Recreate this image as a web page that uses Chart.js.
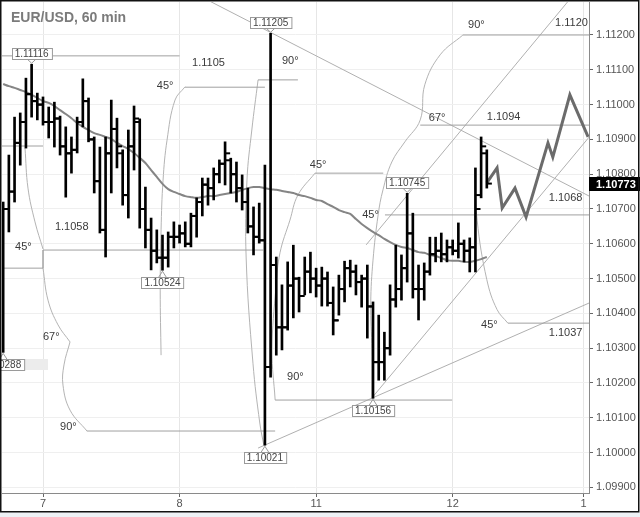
<!DOCTYPE html>
<html>
<head>
<meta charset="utf-8">
<script src="https://cdn.jsdelivr.net/npm/chart.js@4.4.0/dist/chart.umd.min.js"></script>
<style>
  html, body { margin: 0; padding: 0; background: #fff; }
  #wrap { width: 640px; height: 517px; }
</style>
</head>
<body>
<div id="wrap"><canvas id="chart" width="640" height="517"></canvas></div>
<script>
// EUR/USD 60 min - hourly OHLC bars, hour 0 = start of day "7"
const hours = [-7,-6,-5,-4,-3,-2,-1,0,1,2,3,4,5,6,7,8,9,10,11,12,13,14,15,16,17,18,19,20,21,22,
  23,24,25,26,27,28,29,30,31,32,33,34,35,36,37,38,39,40,41,42,43,44,45,46,47,48,49,50,51,52,
  53,54,55,56,57,58,59,60,61,62,63,64,65,66,67,68,69,70,71,72,73,74,75,76,77,78];

const opens = [1.10400,1.10700,1.10750,1.10890,1.10950,1.11030,1.11010,1.11000,1.10950,1.10950,
  1.10960,1.10880,1.10860,1.10870,1.10950,1.11010,1.10900,1.10780,1.10640,1.10860,
  1.10930,1.10860,1.10740,1.10880,1.10950,1.10700,1.10640,1.10580,1.10560,1.10560,
  1.10620,1.10620,1.10630,1.10600,1.10680,1.10720,1.10770,1.10760,1.10800,1.10830,
  1.10840,1.10800,1.10760,1.10720,1.10650,1.10620,1.10610,1.10246,1.10539,1.10360,
  1.10360,1.10480,1.10500,1.10450,1.10520,1.10500,1.10480,1.10500,1.10430,1.10380,
  1.10470,1.10530,1.10520,1.10490,1.10500,1.10420,1.10260,1.10260,1.10300,1.10440,
  1.10470,1.10530,1.10630,1.10470,1.10470,1.10520,1.10570,1.10580,1.10570,1.10590,
  1.10580,1.10600,1.10580,1.10590,1.10740,1.10860];

const highs = [1.10720,1.10855,1.10964,1.10976,1.11076,1.11116,1.11033,1.11022,1.10993,1.11007,
  1.10967,1.10936,1.10907,1.10964,1.11074,1.11019,1.10907,1.10878,1.10907,1.11013,
  1.10961,1.10870,1.10927,1.10996,1.10959,1.10763,1.10674,1.10640,1.10625,1.10634,
  1.10663,1.10654,1.10663,1.10688,1.10732,1.10789,1.10789,1.10818,1.10841,1.10893,
  1.10846,1.10835,1.10798,1.10760,1.10706,1.10717,1.10826,1.11205,1.10562,1.10482,
  1.10548,1.10596,1.10504,1.10562,1.10576,1.10530,1.10533,1.10519,1.10476,1.10510,
  1.10550,1.10553,1.10539,1.10510,1.10539,1.10433,1.10395,1.10346,1.10482,1.10596,
  1.10568,1.10745,1.10688,1.10539,1.10545,1.10619,1.10619,1.10631,1.10611,1.10611,
  1.10660,1.10611,1.10617,1.10818,1.10907,1.10870];

const lows = [1.10288,1.10634,1.10720,1.10826,1.10875,1.10964,1.10956,1.10941,1.10904,1.10878,
  1.10855,1.10734,1.10803,1.10861,1.10936,1.10893,1.10746,1.10631,1.10562,1.10746,
  1.10818,1.10711,1.10674,1.10812,1.10645,1.10588,1.10525,1.10545,1.10524,1.10533,
  1.10588,1.10602,1.10591,1.10591,1.10619,1.10680,1.10711,1.10726,1.10775,1.10769,
  1.10746,1.10720,1.10697,1.10631,1.10568,1.10602,1.10021,1.10217,1.10280,1.10295,
  1.10352,1.10387,1.10404,1.10453,1.10459,1.10447,1.10421,1.10421,1.10338,1.10395,
  1.10433,1.10476,1.10453,1.10418,1.10329,1.10156,1.10208,1.10208,1.10280,1.10418,
  1.10438,1.10490,1.10444,1.10381,1.10438,1.10510,1.10548,1.10548,1.10548,1.10568,
  1.10559,1.10548,1.10519,1.10519,1.10732,1.10760];

const closes = [1.10700,1.10750,1.10890,1.10950,1.11030,1.11010,1.11000,1.10950,1.10950,1.10960,
  1.10880,1.10860,1.10870,1.10950,1.11010,1.10900,1.10780,1.10640,1.10860,1.10930,
  1.10880,1.10740,1.10880,1.10960,1.10700,1.10640,1.10580,1.10560,1.10560,1.10620,
  1.10620,1.10630,1.10600,1.10680,1.10720,1.10770,1.10760,1.10800,1.10830,1.10860,
  1.10800,1.10760,1.10720,1.10650,1.10620,1.10610,1.10246,1.10539,1.10360,1.10360,
  1.10480,1.10500,1.10450,1.10520,1.10500,1.10480,1.10500,1.10430,1.10380,1.10470,
  1.10530,1.10520,1.10490,1.10500,1.10420,1.10260,1.10260,1.10300,1.10440,1.10470,
  1.10530,1.10630,1.10470,1.10470,1.10520,1.10570,1.10580,1.10570,1.10590,1.10580,
  1.10600,1.10580,1.10590,1.10700,1.10880,1.10773];

// moving average drawn through the bars
const movingAvg = [1.11059,1.11053,1.11048,1.11042,1.11036,1.11028,1.11019,1.11010,1.11005,1.10996,
  1.10984,1.10973,1.10961,1.10947,1.10936,1.10927,1.10918,1.10913,1.10907,1.10901,
  1.10890,1.10881,1.10872,1.10861,1.10847,1.10832,1.10812,1.10792,1.10772,1.10757,
  1.10749,1.10743,1.10737,1.10734,1.10732,1.10734,1.10737,1.10737,1.10740,1.10743,
  1.10746,1.10749,1.10755,1.10760,1.10763,1.10763,1.10760,1.10757,1.10755,1.10752,
  1.10749,1.10746,1.10740,1.10737,1.10732,1.10726,1.10723,1.10714,1.10706,1.10697,
  1.10691,1.10686,1.10671,1.10657,1.10645,1.10634,1.10625,1.10614,1.10605,1.10597,
  1.10591,1.10588,1.10582,1.10576,1.10574,1.10568,1.10565,1.10559,1.10553,1.10551,
  1.10551,1.10548,1.10548,1.10551,1.10556,1.10562];

// projected path (thick grey zigzag)
const projHours = [78.0, 79.8, 80.7, 82.95, 84.9, 88.75, 89.6, 92.6, 95.8];
const projPrices = [1.10775, 1.10818, 1.10703, 1.10760, 1.10677, 1.10890, 1.10849, 1.11028, 1.10907];

// axes
const yTicks = [1.099,1.100,1.101,1.102,1.103,1.104,1.105,1.106,1.107,1.108,1.109,1.110,1.111,1.112];
const dayTicks = [0, 24, 48, 72, 95];
const dayLabels = ['7', '8', '11', '12', '1'];

// drawing tools, in (hour, price)
const levelLines = [
  [-7.3, 24.0, 1.11140], [24.96, 39.0, 1.11050], [37.8, 44.8, 1.11071],
  [-7.3, 0, 1.10881], [0, 38.7, 1.10582], [-7.3, 0, 1.10530],
  [7.7, 40.8, 1.10062], [40.8, 71.9, 1.10151], [47.8, 59.8, 1.10803],
  [60.1, 96, 1.10683], [66.3, 96, 1.10941], [73.8, 96, 1.11200], [81.7, 96, 1.10372]
];
const trendLines = [
  [[28.5, 1.11304], [96, 1.10737]],
  [[37.8, 1.10013], [96, 1.10430]],
  [[57.8, 1.10157], [96, 1.10907]],
  [[56.8, 1.10597], [92.5, 1.11301]],
  [[0, 1.10582], [0, 1.10530]]
];
const arcs = [
  [[-3.16,1.10875],[-2.64,1.10760],[-1.41,1.10663],[0,1.10585]],
  [[0,1.10530],[0.88,1.10438],[2.64,1.10367],[4.75,1.10318]],
  [[4.75,1.10318],[3.69,1.10252],[3.51,1.10194],[4.75,1.10122],[7.73,1.10062]],
  [[24.96,1.11051],[23.2,1.11013],[21.8,1.10898],[21.1,1.10783],[20.75,1.10640],[20.6,1.10467],[20.75,1.10280]],
  [[37.8,1.11071],[36.7,1.10927],[35.85,1.10783],[35.7,1.10562],[36.9,1.10257],[38.1,1.10085],[38.8,1.10022]],
  [[47.8,1.10803],[44.8,1.10740],[43.4,1.10668],[41.65,1.10574],[40.95,1.10476],[40.25,1.10295],[40.8,1.10151]],
  [[73.8,1.11200],[69.8,1.11143],[67.1,1.11057],[66.3,1.10956],[63.6,1.10893],[61.3,1.10835],[59.75,1.10755],
   [58.9,1.10683],[58.0,1.10553],[57.6,1.10430],[57.8,1.10295],[57.8,1.10157]],
  [[75.9,1.10812],[76.3,1.10668],[78.0,1.10497],[79.8,1.10411],[81.7,1.10372]]
];
const notes = [
  ['1.1105', 26.2, 1.11120], ['90°', 42.0, 1.11125], ['45°', 20.0, 1.11053],
  ['1.1058', 2.1, 1.10648], ['45°', -4.9, 1.10591], ['67°', 0, 1.10332],
  ['90°', 3.0, 1.10074], ['45°', 46.9, 1.10826], ['90°', 42.9, 1.10217],
  ['45°', 56.1, 1.10683], ['67°', 67.8, 1.10961], ['90°', 74.7, 1.11229],
  ['1.1120', 90.0, 1.11234], ['1.1094', 78.0, 1.10964], ['1.1068', 88.9, 1.10732],
  ['45°', 77.0, 1.10367], ['1.1037', 88.9, 1.10344]
];
// boxed extreme labels: [hour, price, above]
const extremes = [
  [-2, 1.11116, true], [40, 1.11205, true], [21, 1.10524, false], [39, 1.10021, false],
  [58, 1.10156, false], [64, 1.10745, true], [-7, 1.10288, false]
];

const FONT = '"Liberation Sans", Arial, sans-serif';

function toolDataset(points, tension, color) {
  return {
    type: 'line',
    data: points.map(p => ({ x: p[0], y: p[1] })),
    borderColor: color,
    borderWidth: 1,
    pointRadius: 0,
    tension: tension,
    order: 10
  };
}

const datasets = [];
levelLines.forEach(l => datasets.push(toolDataset([[l[0], l[2]], [l[1], l[2]]], 0, '#a0a0a0')));
trendLines.forEach(l => datasets.push(toolDataset(l, 0, '#b0b0b0')));
arcs.forEach(a => datasets.push(toolDataset(a, 0.4, '#b4b4b4')));

datasets.push({
  type: 'line',
  data: hours.map((h, i) => ({ x: h, y: movingAvg[i] })),
  borderColor: '#858585',
  borderWidth: 2,
  pointRadius: 0,
  tension: 0.3,
  order: 6
});
datasets.push({
  type: 'bar',
  data: hours.map((h, i) => ({ x: h, y: [lows[i], highs[i]] })),
  backgroundColor: '#000',
  barThickness: 2,
  borderWidth: 0,
  grouped: false,
  order: 2
});
datasets.push({
  type: 'line',
  data: hours.map((h, i) => ({ x: h - 0.45, y: opens[i] })),
  showLine: false,
  pointStyle: 'line',
  pointRadius: 2.5,
  pointBorderWidth: 2,
  pointBorderColor: '#000',
  order: 1
});
datasets.push({
  type: 'line',
  data: hours.map((h, i) => ({ x: h + 0.45, y: closes[i] })),
  showLine: false,
  pointStyle: 'line',
  pointRadius: 2.5,
  pointBorderWidth: 2,
  pointBorderColor: '#000',
  order: 1
});
datasets.push({
  type: 'line',
  data: projHours.map((h, i) => ({ x: h, y: projPrices[i] })),
  borderColor: '#6b6b6b',
  borderWidth: 3,
  pointRadius: 0,
  tension: 0,
  order: 3
});

const framePlugin = {
  id: 'frame',
  beforeDraw(chart) {
    const ctx = chart.ctx;
    ctx.save();
    ctx.fillStyle = '#fff';
    ctx.fillRect(0, 0, chart.width, chart.height);
    ctx.restore();
  },
  afterDraw(chart) {
    const ctx = chart.ctx;
    const xs = chart.scales.x, ys = chart.scales.y;
    const area = chart.chartArea;
    ctx.save();

    // angle / price notes
    ctx.font = '11px ' + FONT;
    ctx.fillStyle = '#3a3a3a';
    ctx.textBaseline = 'middle';
    ctx.textAlign = 'left';
    notes.forEach(n => ctx.fillText(n[0], xs.getPixelForValue(n[1]), ys.getPixelForValue(n[2])));

    // boxed extremes
    ctx.font = '10px ' + FONT;
    extremes.forEach(e => {
      const px = xs.getPixelForValue(e[0]);
      const py = ys.getPixelForValue(e[1]);
      const txt = e[1].toFixed(5);
      const w = ctx.measureText(txt).width + 6;
      const hgt = 11;
      const boxTop = Math.round(e[2] ? py - 5 - hgt : py + 7);
      const left = Math.round(px - w / 2) + 0.5;
      if (e[0] === -7) {
        ctx.fillStyle = '#ececec';
        ctx.fillRect(left + w, boxTop, 48 - (left + w), hgt);
      }
      ctx.fillStyle = '#fff';
      ctx.fillRect(left, boxTop + 0.5, w, hgt);
      ctx.strokeStyle = '#9a9a9a';
      ctx.lineWidth = 1;
      ctx.strokeRect(left, boxTop + 0.5, w, hgt);
      // tail
      ctx.beginPath();
      const edge = e[2] ? boxTop + hgt + 0.5 : boxTop + 0.5;
      ctx.moveTo(px - 4, edge);
      ctx.lineTo(px, e[2] ? py - 1 : py + 1);
      ctx.lineTo(px + 4, edge);
      ctx.stroke();
      ctx.fillStyle = '#444';
      ctx.textAlign = 'center';
      ctx.fillText(txt, px, boxTop + hgt / 2 + 1);
    });

    // last price tag
    const last = closes[closes.length - 1];
    const ly = Math.round(ys.getPixelForValue(last));
    ctx.fillStyle = '#000';
    ctx.fillRect(area.right, ly - 7, chart.width - area.right, 14);
    ctx.fillStyle = '#fff';
    ctx.font = 'bold 11px ' + FONT;
    ctx.textAlign = 'left';
    ctx.fillText(last.toFixed(5), area.right + 7, ly + 0.5);

    // title
    ctx.font = 'bold 14px ' + FONT;
    ctx.fillStyle = '#7b7b7b';
    ctx.fillText('EUR/USD, 60 min', 11, 18);

    // outer frame and footer strip
    ctx.fillStyle = '#eef1f5';
    ctx.fillRect(0, 512, chart.width, chart.height - 512);
    ctx.strokeStyle = '#111';
    ctx.lineWidth = 1.5;
    ctx.strokeRect(0.75, 0.75, 638, 511);
    ctx.restore();
  }
};

new Chart(document.getElementById('chart'), {
  type: 'bar',
  data: { datasets: datasets },
  options: {
    responsive: false,
    animation: false,
    devicePixelRatio: 1,
    layout: { autoPadding: false, padding: { left: 2, top: 2, right: 0, bottom: 0 } },
    plugins: { legend: { display: false }, tooltip: { enabled: false } },
    scales: {
      x: {
        type: 'linear',
        min: -7.206,
        max: 95.96,
        offset: false,
        afterFit: s => { s.height = 24; s.paddingLeft = 0; s.paddingRight = 0; },
        afterBuildTicks: s => { s.ticks = dayTicks.map(v => ({ value: v })); },
        ticks: {
          autoSkip: false,
          maxRotation: 0,
          padding: 0,
          color: '#555',
          font: { family: FONT, size: 11 },
          callback: (v, i) => dayLabels[i]
        },
        grid: { offset: false, color: '#e6e6e6', tickColor: '#666', tickLength: 4 },
        border: { color: '#8a8a8a' }
      },
      y: {
        type: 'linear',
        position: 'right',
        min: 1.098839,
        max: 1.112948,
        afterFit: s => { s.width = 51; s.paddingTop = 0; s.paddingBottom = 0; },
        afterBuildTicks: s => { s.ticks = yTicks.map(v => ({ value: v })); },
        ticks: {
          padding: 3,
          color: '#555',
          font: { family: FONT, size: 11 },
          callback: v => v.toFixed(5)
        },
        grid: { color: '#efefef', tickColor: '#666', tickLength: 4 },
        border: { color: '#8a8a8a' }
      }
    }
  },
  plugins: [framePlugin]
});
</script>
</body>
</html>
